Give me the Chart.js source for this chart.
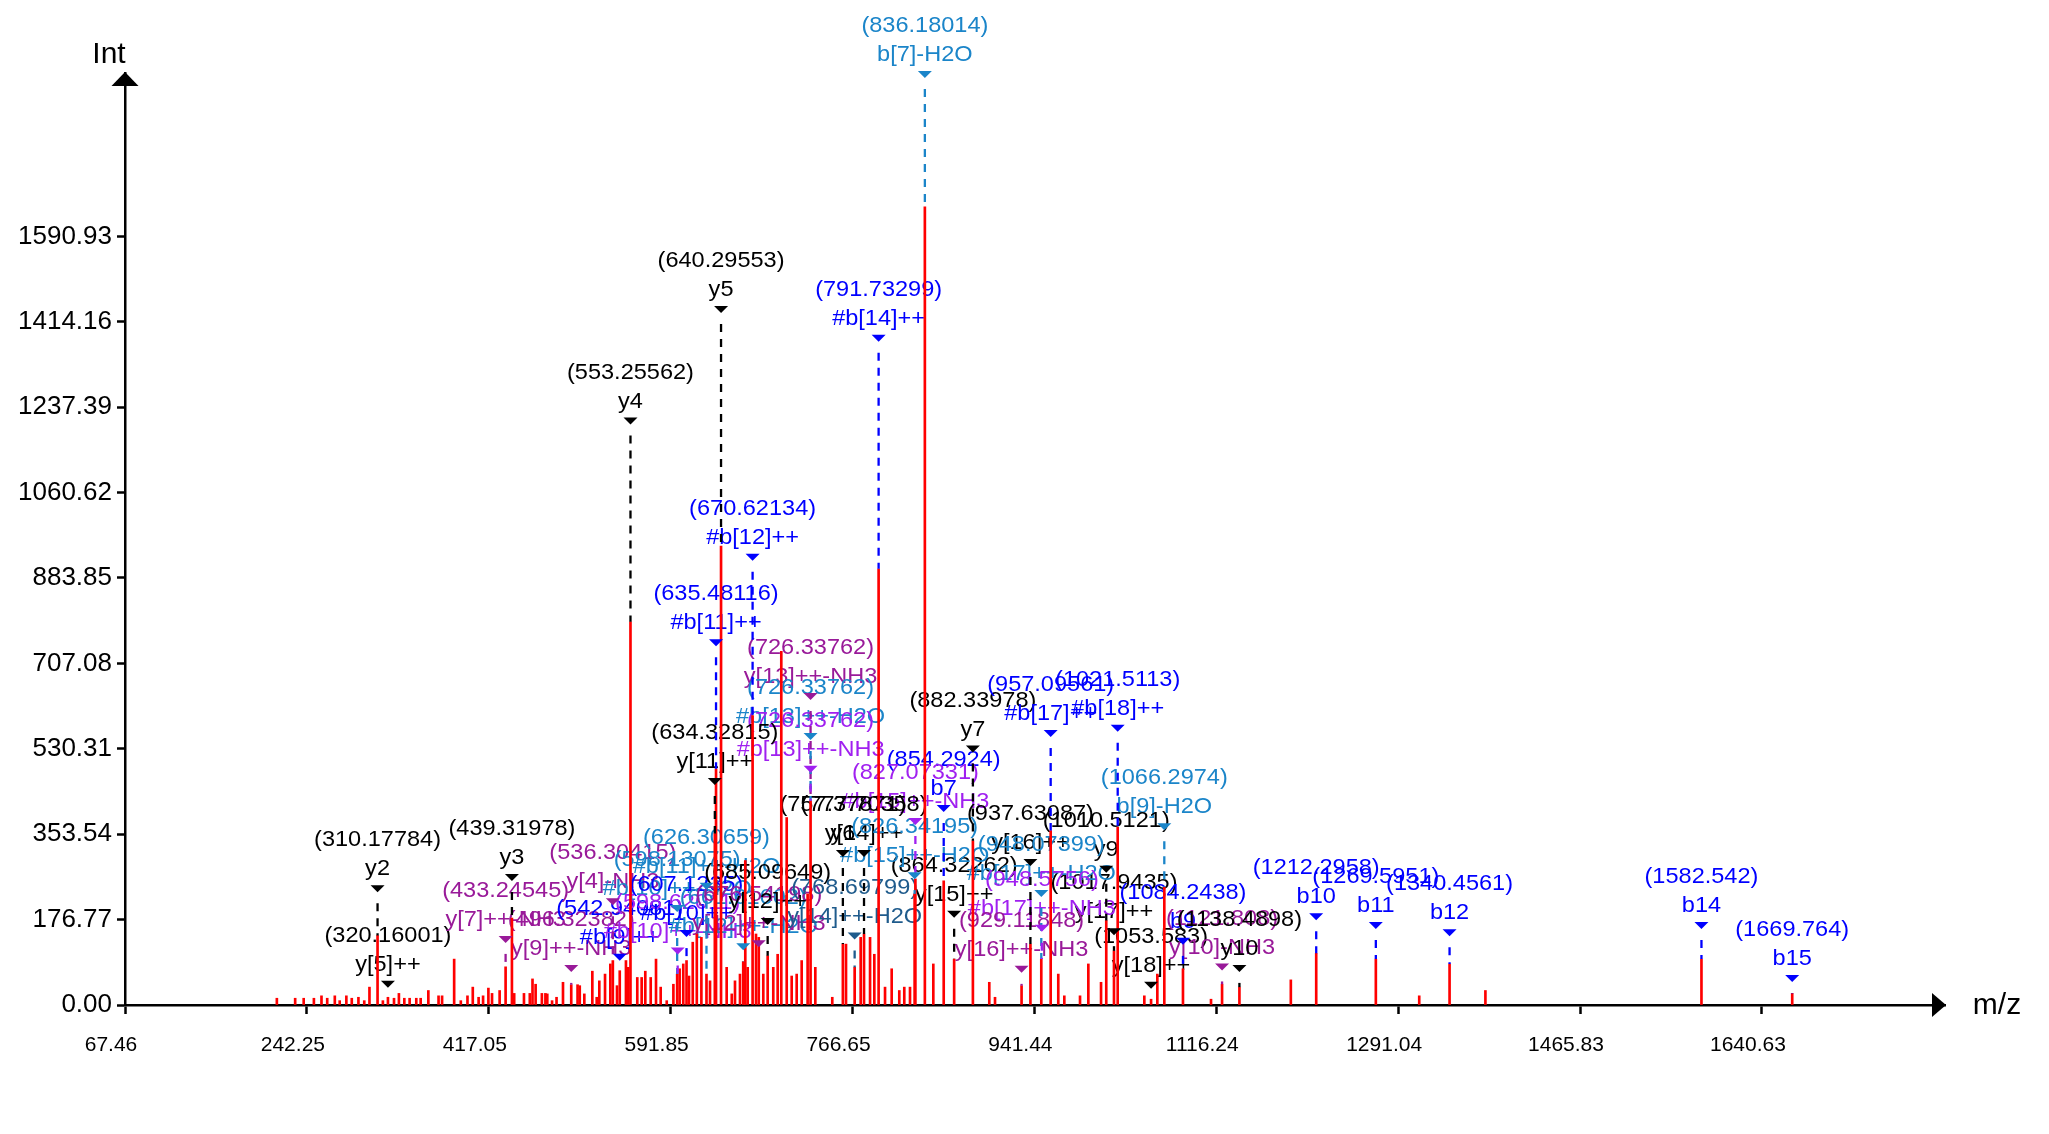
<!DOCTYPE html>
<html>
<head>
<meta charset="utf-8">
<title>Spectrum</title>
<script src="https://cdn.jsdelivr.net/npm/chart.js@4.4.1/dist/chart.umd.min.js"></script>
<style>
  html, body { margin: 0; padding: 0; background: #fff; }
  canvas { display: block; }
</style>
</head>
<body>
<canvas id="spectrum" width="2049" height="1134"></canvas>
<script>
// peak list (m/z, intensity)
const peakMz = [
    213.4, 231.0, 239.2, 249.0, 256.3, 261.8, 269.1, 273.8, 280.2, 285.4,
    291.8, 297.4, 302.4, 310.17784, 315.3, 320.16001, 326.0, 330.7, 335.9, 341.0,
    347.4, 351.6, 359.0, 368.8, 372.2, 383.8, 390.2, 396.6, 401.7, 407.3,
    411.6, 416.7, 420.2, 427.5, 433.24545, 439.31978, 441.5, 450.9, 456.5, 459.1,
    462.1, 468.1, 471.5, 473.3, 477.9, 482.2, 488.4, 496.32382, 502.4, 504.5,
    508.9, 516.6, 520.8, 523.3, 528.8, 533.9, 536.30415, 540.3, 542.94081, 548.9,
    551.2, 553.25562, 559.8, 564.0, 567.5, 572.7, 577.8, 582.3, 588.1, 594.5,
    598.13075, 600.5, 604.0, 607.1235, 609.5, 613.1, 617.0, 621.4, 626.30659, 629.7,
    634.32815, 635.48116, 640.29553, 645.7, 650.6, 653.7, 658.5, 661.61602, 663.6, 665.9,
    670.62134, 673.9, 676.54198, 680.9, 685.09649, 690.5, 694.7, 698.2, 703.4, 708.2,
    713.0, 717.8, 723.5, 726.33762, 730.9, 747.2, 757.37871, 760.4, 768.69799, 774.5,
    777.70358, 783.5, 787.6, 791.73299, 797.9, 804.3, 811.6, 816.4, 821.9, 826.34195,
    827.07331, 836.18014, 844.3, 854.2924, 864.32262, 882.33978, 898.1, 903.6, 929.11848, 937.63087,
    948.07399, 957.09561, 964.4, 970.2, 985.3, 993.3, 1005.5, 1010.5121, 1017.9435, 1021.5113,
    1047.1, 1053.583, 1059.6, 1066.2974, 1084.2438, 1111.2, 1121.808, 1138.4898, 1187.9, 1212.2958,
    1269.5951, 1311.3, 1340.4561, 1374.9, 1582.542, 1669.764
];
const peakInt = [
    14, 14, 14, 14, 19, 14, 19, 9, 19, 14,
    16, 9, 37, 144, 9, 16, 14, 24, 14, 14,
    14, 14, 30, 19, 19, 95, 9, 19, 37, 16,
    19, 35, 24, 30, 79, 180, 24, 24, 24, 54,
    43, 24, 24, 23, 9, 16, 47, 42, 42, 40,
    23, 70, 16, 50, 64, 85, 92, 40, 71, 92,
    78, 793, 57, 57, 70, 57, 95, 37, 9, 43,
    64, 75, 85, 92, 60, 130, 147, 140, 64, 50,
    355, 489, 950, 78, 23, 50, 64, 90, 299, 78,
    599, 147, 140, 64, 102, 78, 105, 732, 388, 60,
    64, 92, 230, 423, 78, 16, 126, 126, 78, 140,
    147, 140, 105, 903, 37, 75, 30, 37, 37, 230,
    261, 1652, 85, 257, 95, 340, 47, 16, 40, 126,
    95, 361, 64, 19, 19, 85, 47, 175, 112, 368,
    19, 12, 64, 244, 75, 12, 43, 37, 52, 107,
    95, 19, 85, 30, 95, 24
];

// matched ions: label m/z, ion name, ion kind, marker level (intensity units)
const annMz = [
    836.18014, 640.29553, 553.25562, 791.73299, 670.62134, 635.48116, 726.33762, 726.33762, 726.33762, 634.32815,
    882.33978, 957.09561, 1021.5113, 1066.2974, 854.2924, 827.07331, 864.32262, 937.63087, 1010.5121, 1017.9435,
    1053.583, 1084.2438, 1121.808, 1138.4898, 1212.2958, 1269.5951, 1340.4561, 1582.542, 1669.764, 310.17784,
    320.16001, 439.31978, 433.24545, 496.32382, 536.30415, 542.94081, 598.13075, 598.62011, 607.1235, 626.30659,
    661.61602, 676.54198, 685.09649, 768.69799, 757.37871, 777.70358, 826.34195, 948.07399, 948.5756, 929.11848
];
const annIon = [
    'b[7]-H2O', 'y5', 'y4', '#b[14]++', '#b[12]++', '#b[11]++', 'y[13]++-NH3', '#b[13]++-H2O', '#b[13]++-NH3', 'y[11]++',
    'y7', '#b[17]++', '#b[18]++', 'b[9]-H2O', 'b7', '#b[15]++-NH3', 'y[15]++', 'y[16]++', 'y9', 'y[17]++',
    'y[18]++', 'b9', 'y[10]-NH3', 'y10', 'b10', 'b11', 'b12', 'b14', 'b15', 'y2',
    'y[5]++', 'y3', 'y[7]++-NH3', 'y[9]++-NH3', 'y[4]-NH3', '#b[9]++', '#b[10]++-H2O', '#b[10]++-NH3', '#b[10]++', '#b[11]++-H2O',
    '#b[12]++-H2O', 'y[12]++-NH3', 'y[12]++', 'y[14]++-H2O', 'y6', 'y[14]++', '#b[15]++-H2O', '#b[17]++-H2O', '#b[17]++-NH3', 'y[16]++-NH3'
];
const annKind = [
    'bH2O', 'y', 'y', 'b', 'b', 'b', 'yNH3', 'bH2O', 'bNH3', 'y',
    'y', 'b', 'b', 'bH2O', 'b', 'bNH3', 'y', 'y', 'y', 'y',
    'y', 'b', 'yNH3', 'y', 'b', 'b', 'b', 'b', 'b', 'y',
    'y', 'y', 'yNH3', 'yNH3', 'yNH3', 'b', 'bH2O', 'bNH3', 'b', 'bH2O',
    'bH2O', 'yNH3', 'y', 'yH2O', 'y', 'y', 'bH2O', 'bH2O', 'bNH3', 'yNH3'
];
const annLevel = [
    1933, 1447, 1216, 1387, 934, 757, 646, 563, 495, 470,
    537, 569, 580, 376, 414, 387, 195, 302, 288, 159,
    48, 139, 86, 83, 190, 172, 157, 172, 62, 248,
    50, 271, 143, 83, 221, 106, 207, 119, 155, 253,
    128, 134, 180, 150, 321, 321, 275, 238, 166, 81
];

const xTicks = [67.46, 242.25, 417.05, 591.85, 766.65, 941.44, 1116.24, 1291.04, 1465.83, 1640.63];
const yTicks = [0.00, 176.77, 353.54, 530.31, 707.08, 883.85, 1060.62, 1237.39, 1414.16, 1590.93];

const kindColor = {
    y: '#000000',
    b: '#0000ff',
    bH2O: '#1b85c9',
    yH2O: '#1f5b8c',
    yNH3: '#991a99',
    bNH3: '#a020f0'
};
const FONT = "'Liberation Sans', Arial, sans-serif";

function nearestPeak(mz) {
    let best = 0;
    peakMz.forEach((m, i) => {
        if (Math.abs(m - mz) < Math.abs(peakMz[best] - mz)) best = i;
    });
    return best;
}

// labels in the source are a little wider than plain Arial
function wideText(ctx, text, x, y) {
    ctx.save();
    ctx.translate(x, y);
    ctx.scale(1.07, 1);
    ctx.fillText(text, 0, 0);
    ctx.restore();
}

const ionLabels = {
    id: 'ionLabels',
    beforeDatasetsDraw(chart) {
        const ctx = chart.ctx, xs = chart.scales.x, ys = chart.scales.y;
        ctx.save();
        ctx.font = '22px ' + FONT;
        ctx.textAlign = 'center';
        ctx.textBaseline = 'middle';
        annMz.forEach((mz, i) => {
            const x = xs.getPixelForValue(mz);
            const top = ys.getPixelForValue(annLevel[i]);
            ctx.fillStyle = kindColor[annKind[i]];
            wideText(ctx, '(' + mz + ')', x, top - 45);
            wideText(ctx, annIon[i], x, top - 16);
        });
        ctx.restore();
    },
    afterDatasetsDraw(chart) {
        const ctx = chart.ctx, xs = chart.scales.x, ys = chart.scales.y;
        const area = chart.chartArea;
        ctx.save();
        annMz.forEach((mz, i) => {
            const x = xs.getPixelForValue(mz);
            const top = ys.getPixelForValue(annLevel[i]);
            const peakTop = ys.getPixelForValue(peakInt[nearestPeak(mz)]);
            const col = kindColor[annKind[i]];
            if (peakTop > top + 18) {
                ctx.strokeStyle = col;
                ctx.lineWidth = 2.3;
                ctx.setLineDash([8, 7]);
                ctx.beginPath();
                ctx.moveTo(x, top + 18);
                ctx.lineTo(x, peakTop);
                ctx.stroke();
            }
            ctx.setLineDash([]);
            ctx.fillStyle = col;
            ctx.beginPath();
            ctx.moveTo(x - 7, top);
            ctx.lineTo(x + 7, top);
            ctx.lineTo(x, top + 7);
            ctx.closePath();
            ctx.fill();
        });

        // axis arrows
        ctx.fillStyle = '#000';
        ctx.beginPath();
        ctx.moveTo(area.left, area.top - 1);
        ctx.lineTo(area.left - 13.5, area.top + 13);
        ctx.lineTo(area.left + 13.5, area.top + 13);
        ctx.closePath();
        ctx.fill();
        ctx.beginPath();
        ctx.moveTo(area.right + 1, area.bottom);
        ctx.lineTo(area.right - 13, area.bottom - 12);
        ctx.lineTo(area.right - 13, area.bottom + 12);
        ctx.closePath();
        ctx.fill();

        ctx.font = '30px ' + FONT;
        ctx.textAlign = 'center';
        ctx.textBaseline = 'alphabetic';
        ctx.fillText('Int', area.left - 16, area.top - 10);
        ctx.fillText('m/z', area.right + 52, area.bottom + 9);
        ctx.restore();
    }
};

const peaks = peakMz.map((m, i) => ({ x: m, y: peakInt[i] }));

new Chart(document.getElementById('spectrum'), {
    type: 'bar',
    data: {
        datasets: [{
            data: peaks,
            backgroundColor: '#ff0000',
            borderWidth: 0,
            barThickness: 2
        }]
    },
    options: {
        responsive: false,
        animation: false,
        layout: { padding: { left: 0, top: 73, right: 104, bottom: 0 } },
        plugins: { legend: { display: false }, tooltip: { enabled: false } },
        scales: {
            x: {
                type: 'linear',
                min: 67.46,
                max: 1816.6,
                offset: false,
                afterFit: s => { s.height = 129; },
                afterBuildTicks: s => { s.ticks = xTicks.map(v => ({ value: v })); },
                grid: { display: true, offset: false, drawOnChartArea: false, drawTicks: true, tickLength: 9, tickWidth: 2.5, tickColor: '#000' },
                border: { display: true, color: '#000', width: 2.5 },
                ticks: {
                    color: '#000',
                    font: { family: FONT, size: 21 },
                    padding: 19,
                    labelOffset: -14,
                    maxRotation: 0,
                    autoSkip: false,
                    callback: v => v.toFixed(2)
                }
            },
            y: {
                type: 'linear',
                min: 0,
                max: 1929,
                afterFit: s => { s.width = 125; },
                afterBuildTicks: s => { s.ticks = yTicks.map(v => ({ value: v })); },
                grid: { display: true, drawOnChartArea: false, drawTicks: true, tickLength: 8, tickWidth: 2.5, tickColor: '#000' },
                border: { display: true, color: '#000', width: 2.5 },
                ticks: {
                    color: '#000',
                    font: { family: FONT, size: 26 },
                    padding: 5,
                    autoSkip: false,
                    callback: v => v.toFixed(2)
                }
            }
        }
    },
    plugins: [ionLabels]
});
</script>
</body>
</html>
